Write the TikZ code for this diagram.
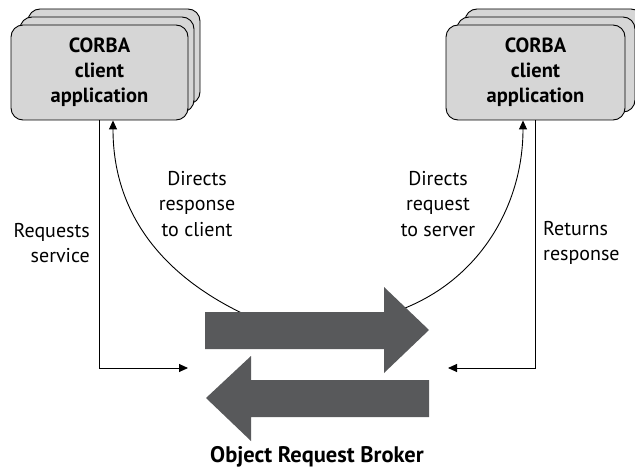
\documentclass[tikz,border=0pt]{standalone}
\usepackage{fontspec}
\setmainfont{PT Sans}
\usepackage{tikz}
\usetikzlibrary{arrows.meta,calc,positioning}
\definecolor{boxgray}{HTML}{D6D6D6}
\definecolor{orbgray}{HTML}{58595B}

\begin{document}
\begin{tikzpicture}[x=1pt,y=-1pt,
  appbox/.style={draw=black,fill=boxgray,rounded corners=12pt,line width=0.9pt,
    minimum height=95pt,inner sep=0pt,align=center,
    font=\fontsize{20.5}{25}\selectfont\bfseries},
  lbl/.style={font=\fontsize{20}{25.5}\selectfont,inner sep=0pt},
  link/.style={line width=0.9pt,-{Triangle[length=9pt,width=8pt]}},
  orb/.style={fill=orbgray}]
\useasboundingbox (0,0) rectangle (635,468);

% client stack
\node[appbox,minimum width=172pt] (cliL3) at (114,56.5) {};
\node[appbox,minimum width=174pt] (cliL2) at (107,64.5) {};
\node[appbox,minimum width=177pt] (cliL) at (99.5,72.5) {CORBA\\client\\application};
% server stack
\node[appbox,minimum width=178pt] (cliR3) at (554,56.5) {};
\node[appbox,minimum width=178pt] (cliR2) at (546,64.5) {};
\node[appbox,minimum width=179pt] (cliR) at (535.5,72.5) {CORBA\\client\\application};

\coordinate (cliLin) at ([xshift=13.5pt]cliL.south);
\coordinate (cliRin) at ([xshift=-12.5pt]cliR.south);
\coordinate (fromLeft) at (188,368);
\coordinate (fromRight) at (448,368);
\coordinate (toClient) at (248,316);
\coordinate (toServer) at (400,310);

\draw[link] (cliL.south) |- (fromLeft);
\draw[link] (cliR.south) |- (fromRight);
\draw[link] (toClient) .. controls (170,280) and (113,220) .. (cliLin);
\draw[link] (toServer) .. controls (480,280) and (523,205) .. (cliRin);

% the broker
\fill[orb] (205,312) -- (384,312) -- (384,287) -- (429,330) -- (384,373)
  -- (384,349) -- (205,349) -- cycle;
\fill[orb] (429,380) -- (251,380) -- (251,356) -- (206,398) -- (251,441)
  -- (251,417) -- (429,417) -- cycle;

\node[lbl,align=right,anchor=east] (reqSvc) at (90,243) {Requests\\service};
\node[lbl,align=center] (dirResp) at (197,204) {Directs\\response\\to client};
\node[lbl,align=center] (dirReq) at (438,204) {Directs\\request\\to server};
\node[lbl,align=left,anchor=west] (retResp) at (543,243) {Returns\\response};
\node[lbl,font=\fontsize{22.5}{25}\selectfont\bfseries] (orbName) at (317,457) {Object Request Broker};
\end{tikzpicture}
\end{document}
